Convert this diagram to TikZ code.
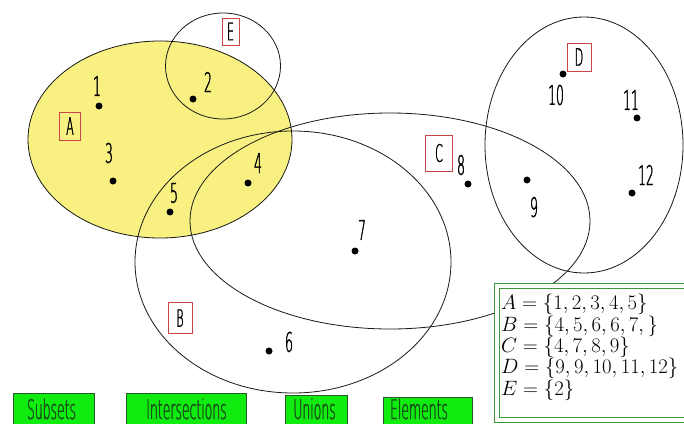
\documentclass[tikz,border=0pt]{standalone}
\usepackage{fontspec}
\newfontfamily\cond[FakeStretch=0.46,FakeBold=1.2]{DejaVu Sans ExtraLight}
\definecolor{ayellow}{RGB}{248,241,130}
\definecolor{btngreen}{RGB}{16,236,16}
\definecolor{btnedge}{RGB}{40,90,40}
\definecolor{btntext}{RGB}{25,80,25}
\definecolor{lblred}{RGB}{200,70,70}
\definecolor{legendgreen}{RGB}{60,150,60}
\begin{document}
\begin{tikzpicture}[x=1pt,y=-1pt,
  setline/.style={draw=black!90, line width=0.8pt},
  dot/.style={circle, fill=black, inner sep=0pt, minimum size=7pt},
  num/.style={font=\cond\fontsize{27}{27}\selectfont, inner sep=0pt},
  setlabel/.style={draw=lblred, line width=0.6pt, font=\cond\fontsize{24}{24}\selectfont, inner sep=0pt},
  button/.style={fill=btngreen, draw=btnedge, line width=0.6pt, anchor=north west, inner sep=0pt, minimum height=40pt},
  btntxt/.style={text=btntext, font=\cond\fontsize{27}{27}\selectfont, anchor=base, inner sep=0pt},
  legline/.style={anchor=base west, inner sep=0pt, font=\fontsize{20.8}{21}\selectfont}]
\useasboundingbox (0,0) rectangle (684,423);
\clip (0,0) rectangle (684,423);
\fill[white] (0,0) rectangle (684,423);
% set A filled
\fill[ayellow] (160,139.5) ellipse [x radius=132pt, y radius=98.5pt];
% outlines
\draw[setline] (160,139.5) ellipse [x radius=132pt, y radius=98.5pt];
\draw[setline] (223,66) ellipse [x radius=57.5pt, y radius=53pt];
\draw[setline] (293,262) ellipse [x radius=158pt, y radius=131pt];
\draw[setline] (390,221) ellipse [x radius=200pt, y radius=108pt];
\draw[setline] (584,145) ellipse [x radius=99pt, y radius=128pt];
% set labels
\node[setlabel, minimum width=21pt, minimum height=28pt] (labA) at (70,126) {A};
\node[setlabel, minimum width=17pt, minimum height=27pt] (labE) at (230.5,31.5) {E};
\node[setlabel, minimum width=24pt, minimum height=28pt] (labD) at (579,57) {D};
\node[setlabel, minimum width=27pt, minimum height=36pt] (labC) at (439,153) {C};
\node[setlabel, minimum width=24pt, minimum height=31pt] (labB) at (180,318) {B};
% elements
\node[dot] (d1) at (99,106) {};   \node[num] (n1) at (97,86) {1};
\node[dot] (d2) at (193,99) {};   \node[num] (n2) at (208,82) {2};
\node[dot] (d3) at (113,181) {};  \node[num] (n3) at (109,153) {3};
\node[dot] (d4) at (248,183) {};  \node[num] (n4) at (258,163) {4};
\node[dot] (d5) at (170,212) {};  \node[num] (n5) at (174,193) {5};
\node[dot] (d6) at (269,351) {};  \node[num] (n6) at (289,342) {6};
\node[dot] (d7) at (355,251) {};  \node[num] (n7) at (362,230) {7};
\node[dot] (d8) at (468,184) {};  \node[num] (n8) at (461,165) {8};
\node[dot] (d9) at (527,180) {};  \node[num] (n9) at (534,207) {9};
\node[dot] (d10) at (563,74) {};  \node[num] (n10) at (556,95) {10};
\node[dot] (d11) at (637,118) {}; \node[num] (n11) at (631,100) {11};
\node[dot] (d12) at (632,193) {}; \node[num] (n12) at (646,175) {12};
% legend
\filldraw[fill=white, draw=legendgreen, line width=0.8pt] (494.5,283.5) rectangle (700,422.5);
\draw[draw=legendgreen, line width=0.8pt] (499,288) rectangle (700,417.5);
\node[legline] (legA) at (501,309) {$A=\{1,2,3,4,5\}$};
\node[legline] (legB) at (501,331) {$B=\{4,5,6,6,7,\}$};
\node[legline] (legC) at (501,352) {$C=\{4,7,8,9\}$};
\node[legline] (legD) at (501,373.5) {$D=\{9,9,10,11,12\}$};
\node[legline] (legE) at (501,395) {$E=\{2\}$};
% buttons
\node[button, minimum width=81pt] (bSub) at (13,393) {};
\node[btntxt] (tSub) at (51.5,419) {Subsets};
\node[button, minimum width=120pt] (bInt) at (126,393) {};
\node[btntxt] (tInt) at (186.5,419) {Intersections};
\node[button, minimum width=62pt] (bUni) at (285,395) {};
\node[btntxt] (tUni) at (314.5,419) {Unions};
\node[button, minimum width=89pt] (bEle) at (383,397) {};
\node[btntxt] (tEle) at (419,419) {Elements};
\end{tikzpicture}
\end{document}
